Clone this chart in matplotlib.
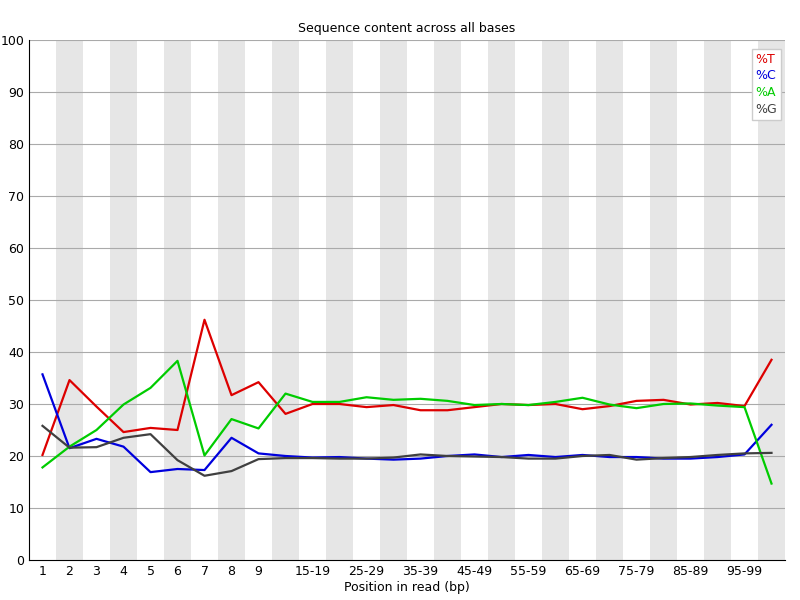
import matplotlib
matplotlib.use("Agg")
import matplotlib.pyplot as plt

labels = ["1","2","3","4","5","6","7","8","9","10-14","15-19","20-24","25-29","30-34","35-39",
          "40-44","45-49","50-54","55-59","60-64","65-69","70-74","75-79","80-84","85-89",
          "90-94","95-99","100-101"]
shown = ["1","2","3","4","5","6","7","8","9","","15-19","","25-29","","35-39","","45-49","",
         "55-59","","65-69","","75-79","","85-89","","95-99",""]
T = [20.2,34.6,29.5,24.6,25.4,25.0,46.2,31.7,34.2,28.1,30.0,30.0,29.4,29.8,28.8,28.8,29.4,30.0,
     29.8,30.0,29.0,29.6,30.6,30.8,29.9,30.2,29.6,38.5]
C = [35.7,21.5,23.3,21.8,16.9,17.5,17.3,23.5,20.5,20.0,19.7,19.8,19.5,19.3,19.5,20.0,20.3,19.8,
     20.2,19.8,20.2,19.8,19.8,19.5,19.5,19.8,20.3,26.0]
A = [17.8,21.8,25.0,29.9,33.1,38.3,20.1,27.1,25.3,32.0,30.4,30.4,31.3,30.8,31.0,30.6,29.8,30.0,
     29.8,30.4,31.2,29.9,29.2,30.0,30.1,29.7,29.4,14.7]
G = [25.8,21.6,21.7,23.5,24.2,19.2,16.2,17.1,19.4,19.6,19.6,19.5,19.5,19.7,20.3,20.0,19.9,19.8,
     19.5,19.5,20.0,20.2,19.3,19.6,19.8,20.2,20.5,20.6]

plt.rcParams['font.family'] = 'DejaVu Sans'
plt.rcParams['font.size'] = 9
fig = plt.figure(figsize=(8, 6), dpi=100)
ax = fig.add_axes([29/800, 40/600, 756/800, 520/600])
n = len(labels)
x = list(range(n))
for i in x:
    if i % 2 == 1:
        ax.axvspan(i - 0.5, i + 0.5, color='#e6e6e6', lw=0, zorder=0)
for v in range(10, 101, 10):
    ax.axhline(v, color='#aaaaaa', lw=0.8, zorder=1)
ax.plot(x, T, color='#dd0000', lw=1.6, label='%T', zorder=3)
ax.plot(x, C, color='#0000dd', lw=1.6, label='%C', zorder=3)
ax.plot(x, A, color='#00cc00', lw=1.6, label='%A', zorder=3)
ax.plot(x, G, color='#404040', lw=1.6, label='%G', zorder=3)
ax.set_xlim(-0.5, n - 0.5)
ax.set_ylim(0, 100)
ax.set_yticks(range(0, 101, 10))
ax.set_xticks(x)
ax.set_xticklabels(shown)
ax.tick_params(length=0)
for s in ['top', 'right']:
    ax.spines[s].set_visible(False)
ax.set_title('Sequence content across all bases', fontsize=9)
ax.set_xlabel('Position in read (bp)', labelpad=2)
leg = ax.legend(loc='upper right', handlelength=0, handletextpad=0, fancybox=False,
                framealpha=1, edgecolor='#cccccc', borderpad=0.3, labelspacing=0.3,
                bbox_to_anchor=(1.003, 0.995))
for t, c in zip(leg.get_texts(), ['#dd0000', '#0000dd', '#00cc00', '#404040']):
    t.set_color(c)
for h in leg.legend_handles:
    h.set_visible(False)
fig.savefig('out.png', dpi=100)
